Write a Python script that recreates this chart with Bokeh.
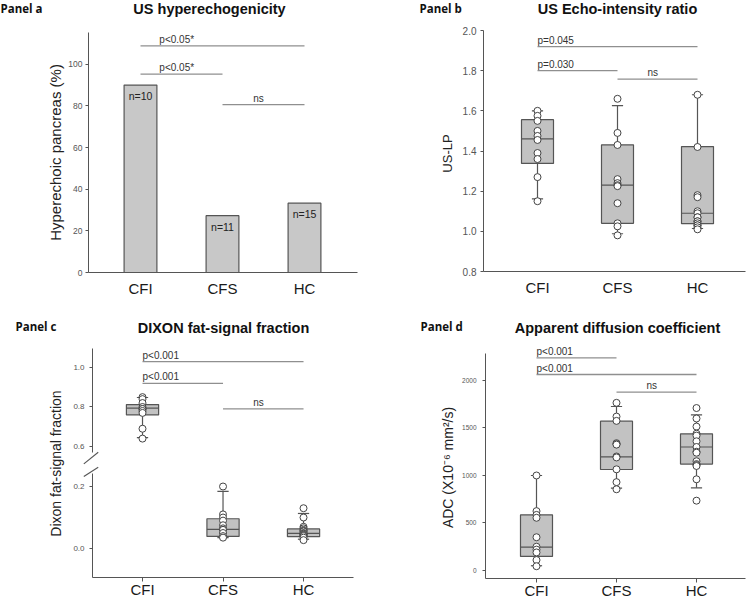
import math
from bokeh.plotting import figure
from bokeh.models import (Range1d, FixedTicker, Label, LinearAxis, ColumnDataSource,
                          NumeralTickFormatter)
from bokeh.layouts import row, column
from bokeh.transform import dodge
from bokeh.embed import file_html
from bokeh.resources import INLINE
from bokeh.core.properties import value

# ---------------- data ----------------
groups = ["CFI", "CFS", "HC"]

# Panel a : US hyperechogenicity (% hyperechoic pancreas)
hyper_pct = [90.0, 27.3, 33.3]
hyper_n = ["n=10", "n=11", "n=15"]
a_yticks = [0, 20, 40, 60, 80, 100]
a_sig_from = [0, 0, 1]
a_sig_to = [2, 1, 2]
a_sig_y = [108.8, 95.2, 80.6]
a_sig_text = ["p<0.05*", "p<0.05*", "ns"]

# Panel b : US echo-intensity ratio (US-LP)
b_cfi = [1.60, 1.575, 1.55, 1.50, 1.475, 1.455, 1.39, 1.36, 1.27, 1.15]
b_cfs = [1.66, 1.49, 1.43, 1.26, 1.24, 1.23, 1.225, 1.14, 1.04, 1.025, 0.98]
b_hc = [1.68, 1.42, 1.18, 1.17, 1.10, 1.09, 1.07, 1.07, 1.05, 1.05, 1.04, 1.03, 1.03, 1.02, 1.01]
b_q1 = [1.338, 1.040, 1.038]
b_med = [1.460, 1.230, 1.090]
b_q3 = [1.556, 1.431, 1.422]
b_lo = [1.162, 0.988, 1.014]
b_hi = [1.600, 1.626, 1.680]
b_yticks = [0.8, 1.0, 1.2, 1.4, 1.6, 1.8, 2.0]
b_sig_from = [0, 0, 1]
b_sig_to = [2, 1, 2]
b_sig_y = [1.92, 1.80, 1.758]
b_sig_text = ["p=0.045", "p=0.030", "ns"]

# Panel c : DIXON fat-signal fraction
c_cfi = [0.85, 0.84, 0.82, 0.80, 0.79, 0.79, 0.78, 0.77, 0.69, 0.64]
c_cfs = [0.20, 0.11, 0.10, 0.09, 0.075, 0.065, 0.06, 0.06, 0.05, 0.04, 0.035]
c_hc = [0.13, 0.10, 0.07, 0.065, 0.06, 0.057, 0.055, 0.05, 0.048, 0.046, 0.044, 0.042, 0.04,
        0.035, 0.027]
c_q1 = [0.760, 0.039, 0.038]
c_med = [0.794, 0.062, 0.049]
c_q3 = [0.812, 0.096, 0.063]
c_lo = [0.645, 0.035, 0.030]
c_hi = [0.848, 0.184, 0.113]
c_yticks_low = [0.0, 0.2]
c_yticks_up = [0.6, 0.8, 1.0]
c_sig_from = [0, 0, 1]
c_sig_to = [2, 1, 2]
c_sig_y = [1.03, 0.92, 0.79]
c_sig_text = ["p<0.001", "p<0.001", "ns"]

# Panel d : Apparent diffusion coefficient
d_cfi = [1000, 625, 585, 555, 350, 250, 220, 190, 110, 45]
d_cfs = [1765, 1620, 1575, 1340, 1330, 1325, 1200, 1190, 1065, 930, 855]
d_hc = [1710, 1600, 1515, 1440, 1420, 1360, 1300, 1250, 1240, 1150, 1120, 1110, 1100, 960, 735]
d_q1 = [148, 1063, 1120]
d_med = [245, 1195, 1300]
d_q3 = [586, 1572, 1439]
d_lo = [50, 866, 870]
d_hi = [1000, 1726, 1639]
d_yticks = [0, 500, 1000, 1500, 2000]
d_sig_from = [0, 0, 1]
d_sig_to = [1, 2, 2]
d_sig_y = [2239, 2063, 1877]
d_sig_text = ["p<0.001", "p<0.001", "ns"]

# ---------------- style ----------------
FONT = "Liberation Sans"
PFONT = "Open Sans"
AXC = "#555555"
BOXFILL = "#c2c2c2"
BOXLINE = "#555555"
SIGC = "#8f8f8f"
TXT = "#222222"
idx = list(range(len(groups)))


def make_fig(W, H, xr, yr):
    p = figure(width=W, height=H, x_range=xr, y_range=yr, output_backend="svg",
               toolbar_location=None, y_axis_location=None, x_axis_location=None,
               min_border_left=0, min_border_right=0, min_border_top=0, min_border_bottom=0)
    p.outline_line_color = None
    p.grid.visible = False
    return p


def add_x(p, loc, bounds, tick_out, standoff):
    ax = LinearAxis(fixed_location=loc, bounds=bounds)
    ax.ticker = FixedTicker(ticks=idx)
    ax.major_label_overrides = {i: g for i, g in enumerate(groups)}
    ax.major_label_text_font = FONT
    ax.major_label_text_font_size = "15px"
    ax.major_label_text_color = "#1a1a1a"
    ax.axis_line_color = AXC
    ax.major_tick_line_color = AXC
    ax.major_tick_out = tick_out
    ax.major_tick_in = 0
    ax.minor_tick_line_color = None
    ax.major_label_standoff = standoff
    p.add_layout(ax, "below")
    return ax


def add_y(p, loc, bounds, ticks, fmt, size, standoff, rname="default"):
    ax = LinearAxis(y_range_name=rname, fixed_location=loc, bounds=bounds)
    ax.ticker = FixedTicker(ticks=ticks)
    ax.formatter = NumeralTickFormatter(format=fmt)
    ax.major_label_text_font = FONT
    ax.major_label_text_font_size = size
    ax.major_label_text_color = "#555555"
    ax.axis_line_color = AXC
    ax.major_tick_line_color = AXC
    ax.major_tick_out = 3
    ax.major_tick_in = 0
    ax.minor_tick_line_color = None
    ax.major_label_standoff = standoff
    p.add_layout(ax, "left")
    return ax


def put_label(p, H, x, y, text, size, bold=False, font=FONT, align="left",
              baseline="top", angle=0.0, color="#111111"):
    # x, y: position inside the figure measured from its top-left corner
    # (the frame fills the whole figure)
    p.add_layout(Label(x=x, y=H - y, x_units="screen", y_units="screen",
                       text=text, text_font=font, text_font_size=size,
                       text_font_style="bold" if bold else "normal",
                       text_align=align, text_baseline=baseline, angle=angle,
                       text_color=color))


def draw_sig(p, frm, to, ys, texts, p_dx, rname="default"):
    p.segment(x0=frm, y0=ys, x1=to, y1=ys, line_color=SIGC, line_width=1.3,
              y_range_name=rname)
    px, py, pt, nx, ny, nt = [], [], [], [], [], []
    for f, t, y, s in zip(frm, to, ys, texts):
        if s == "ns":
            nx.append((f + t) / 2 - 0.06); ny.append(y); nt.append(s)
        else:
            px.append(f + p_dx); py.append(y); pt.append(s)
    common = dict(text_font=value(FONT), text_font_size="10px", text_color="#333333",
                  text_baseline="bottom", y_offset=-1, y_range_name=rname)
    p.text(x=px, y=py, text=pt, text_align="left", **common)
    p.text(x=nx, y=ny, text=nt, text_align="center", **common)


def draw_boxes(p, xs, q1, med, q3, lo, hi, pts, rname="default", width=0.4, cap=0.07):
    src = ColumnDataSource(dict(x=xs, q1=q1, med=med, q3=q3, lo=lo, hi=hi))
    lk = dict(line_color=BOXLINE, line_width=1.2, source=src, y_range_name=rname)
    p.segment(x0="x", y0="q3", x1="x", y1="hi", **lk)
    p.segment(x0="x", y0="q1", x1="x", y1="lo", **lk)
    p.segment(x0=dodge("x", -cap), y0="hi", x1=dodge("x", cap), y1="hi", **lk)
    p.segment(x0=dodge("x", -cap), y0="lo", x1=dodge("x", cap), y1="lo", **lk)
    p.vbar(x="x", width=width, bottom="q1", top="q3", fill_color=BOXFILL,
           line_color=BOXLINE, line_width=1.2, source=src, y_range_name=rname)
    p.segment(x0=dodge("x", -width / 2), y0="med", x1=dodge("x", width / 2), y1="med", **lk)
    for x, vals in zip(xs, pts):
        p.scatter(x=[x] * len(vals), y=vals, size=7, fill_color="white",
                  line_color="#444444", line_width=1, y_range_name=rname)


# ---------------- Panel a ----------------
HA = 300
pa = make_fig(375, HA, Range1d(-1.7073, 2.8659), Range1d(-13.44, 130.58))
ax_a = -0.634
pa.vbar(x=idx, top=hyper_pct, bottom=0, width=0.4, fill_color="#c8c8c8",
        line_color=BOXLINE, line_width=1.2)
pa.text(x=idx, y=hyper_pct, text=hyper_n, text_align="center", text_baseline="top",
        y_offset=5, text_font=value(FONT), text_font_size="10.5px", text_color="#222222")
draw_sig(pa, a_sig_from, a_sig_to, a_sig_y, a_sig_text, 0.23)
add_x(pa, 0, (ax_a, 2.646), 0, 7)
add_y(pa, ax_a, (0, 115.3), a_yticks, "0", "8.5px", 3)
put_label(pa, HA, 0, 0, "Panel a", "11.5px", True, font=PFONT)
put_label(pa, HA, 209, 0, "US hyperechogenicity", "14.5px", True, align="center")
put_label(pa, HA, 55, 152, "Hyperechoic pancreas (%)", "15px", align="center",
          baseline="middle", angle=math.pi / 2, color=TXT)

# ---------------- Panel b ----------------
HB = 300
pb = make_fig(375, HB, Range1d(-2.025, 2.6625), Range1d(0.6556, 2.1494))
ax_b = -0.675
draw_sig(pb, b_sig_from, b_sig_to, b_sig_y, b_sig_text, 0.0)
draw_boxes(pb, idx, b_q1, b_med, b_q3, b_lo, b_hi, [b_cfi, b_cfs, b_hc])
add_x(pb, 0.8, (ax_b, 2.6), 0, 7)
add_y(pb, ax_b, (0.8, 2.0), b_yticks, "0.0", "10px", 4)
put_label(pb, HB, 44, 0, "Panel b", "11.5px", True, font=PFONT)
put_label(pb, HB, 242, 0, "US Echo-intensity ratio", "14.5px", True, align="center")
put_label(pb, HB, 72, 153, "US-LP", "13px", align="center", baseline="middle",
          angle=math.pi / 2, color=TXT)

# ---------------- Panel c (broken axis) ----------------
HCF = 299
c_low = Range1d(-0.1645, 0.80)
c_up = Range1d(-0.1747, 1.3392)
pc = make_fig(375, HCF, Range1d(-1.764, 2.894), c_low)
pc.extra_y_ranges = {"upper": c_up}
ax_c = -0.621
c_floor = -0.0935
brk_low, brk_up = 0.242, 0.570
add_x(pc, c_floor, (ax_c, 2.621), 4, 0)
add_y(pc, ax_c, (c_floor, brk_low), c_yticks_low, "0.0", "8px", 5)
add_y(pc, ax_c, (brk_up, 1.096), c_yticks_up, "0.0", "8px", 5, rname="upper")
draw_sig(pc, c_sig_from, c_sig_to, c_sig_y, c_sig_text, 0.0, rname="upper")
for i in idx:
    rn = "upper" if c_med[i] > brk_up else "default"
    draw_boxes(pc, [i], [c_q1[i]], [c_med[i]], [c_q3[i]], [c_lo[i]], [c_hi[i]],
               [[c_cfi, c_cfs, c_hc][i]], rname=rn)
# axis-break marks ("//") at the two ends of the gap
pc.segment(x0=[ax_c - 0.108], y0=[brk_up - 0.058], x1=[ax_c + 0.071], y1=[brk_up + 0.001],
           line_color=AXC, line_width=1.1, y_range_name="upper")
pc.segment(x0=[ax_c - 0.108], y0=[brk_low - 0.010], x1=[ax_c + 0.071], y1=[brk_low + 0.020],
           line_color=AXC, line_width=1.1)
put_label(pc, HCF, 15, 18, "Panel c", "11.5px", True, font=PFONT)
put_label(pc, HCF, 223, 19, "DIXON fat-signal fraction", "14.5px", True, align="center")
put_label(pc, HCF, 55, 163, "Dixon fat-signal fraction", "14px", align="center",
          baseline="middle", angle=math.pi / 2, color=TXT)

# ---------------- Panel d ----------------
HD = 299
pd_ = make_fig(375, HD, Range1d(-2.0125, 2.675), Range1d(-305.3, 2842))
ax_d = -0.6375
d_floor = -84
draw_sig(pd_, d_sig_from, d_sig_to, d_sig_y, d_sig_text, 0.0)
draw_boxes(pd_, idx, d_q1, d_med, d_q3, d_lo, d_hi, [d_cfi, d_cfs, d_hc])
add_x(pd_, d_floor, (ax_d, 2.6125), 4, 0)
add_y(pd_, ax_d, (d_floor, 2284), d_yticks, "0", "6.5px", 6)
put_label(pd_, HD, 45, 18, "Panel d", "11.5px", True, font=PFONT)
put_label(pd_, HD, 242, 19, "Apparent diffusion coefficient", "14.5px", True, align="center")
put_label(pd_, HD, 72, 167, "ADC (X10\u207b\u2076 mm\u00b2/s)", "14px", align="center",
          baseline="middle", angle=math.pi / 2, color=TXT)

layout = column(row(pa, pb), row(pc, pd_))
open("out.html", "w").write(file_html(layout, INLINE))
